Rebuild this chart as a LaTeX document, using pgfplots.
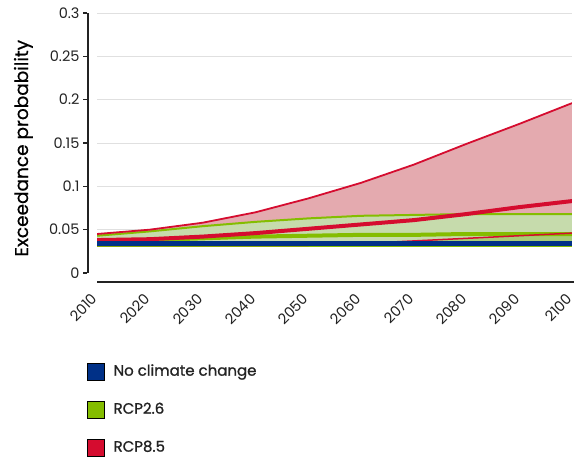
\documentclass[border=0pt]{standalone}
\usepackage{fontspec}
\setmainfont{Poppins}
\newfontfamily\semib{Poppins}[FakeBold=1.2]
\newfontfamily\medf{Poppins}[FakeBold=0.6]
\usepackage{pgfplots}
\pgfplotsset{compat=1.18}
\usepgfplotslibrary{fillbetween}

\definecolor{ncc}{RGB}{0,48,135}
\definecolor{rcpgreen}{RGB}{132,189,0}
\definecolor{rcpred}{RGB}{213,12,47}
\definecolor{redfill}{RGB}{228,170,175}
\definecolor{greenfill}{RGB}{198,219,172}
\definecolor{greendark}{RGB}{168,204,118}
\definecolor{axisgray}{RGB}{35,35,35}

\begin{document}
\begin{tikzpicture}
\begin{axis}[
  at={(0,0)}, anchor=south west,
  scale only axis, width=475bp, height=260bp,
  xmin=2010, xmax=2100, ymin=0, ymax=0.3,
  axis lines=left,
  axis line style={draw=none},
  xtick={2010,2020,2030,2040,2050,2060,2070,2080,2090,2100},
  xticklabels={2010,2020,2030,2040,2050,2060,2070,2080,2090,2100},
  ytick={0.05,0.1,0.15,0.2,0.25,0.3},
  yticklabels={0.05,0.1,0.15,0.2,0.25,0.3},
  extra y ticks={0}, extra y tick labels={0},
  extra y tick style={grid=none},
  ymajorgrids,
  grid style={line width=1bp, black!12},
  tick align=outside,
  major tick length=5bp,
  tick style={draw=none},
  tick label style={font=\fontsize{14.5bp}{16bp}\selectfont, text=axisgray},
  yticklabel style={xshift=-9bp},
  xticklabel style={xshift=0bp, yshift=-16bp, rotate=45, anchor=east},
  ylabel={Exceedance probability},
  ylabel style={at={(axis description cs:-0.155,0.48)}, anchor=center,
    font=\fontsize{18.5bp}{20bp}\medf, text=black},
  legend style={at={(rel axis cs:0,0)}, anchor=north west, xshift=-10bp, yshift=-90bp,
    draw=none, fill=none, inner sep=0pt, row sep=20.5bp,
    font=\fontsize{15bp}{17bp}\semib,
    nodes={text height=10.5bp, text depth=3bp, inner sep=2bp, text=axisgray}},
  legend cell align=left,
  legend image code/.code={\fill[#1] (0bp,-8.5bp) rectangle (17bp,8.5bp);},
  /tikz/every odd column/.style={column sep=7bp},
]
% band bounds
\addplot[draw=none, name path=ru, forget plot] coordinates {
  (2010,0.045) (2020,0.050) (2030,0.058) (2040,0.070) (2050,0.086)
  (2060,0.104) (2070,0.125) (2080,0.149) (2090,0.172) (2100,0.196)};
\addplot[draw=none, name path=rl, forget plot] coordinates {
  (2010,0.032) (2020,0.032) (2030,0.032) (2040,0.032) (2050,0.032)
  (2060,0.034) (2070,0.037) (2080,0.040) (2090,0.043) (2100,0.046)};
\addplot[draw=none, name path=gu, forget plot] coordinates {
  (2010,0.043) (2020,0.048) (2030,0.054) (2040,0.059) (2050,0.063)
  (2060,0.066) (2070,0.067) (2080,0.068) (2090,0.068) (2100,0.068)};
\addplot[draw=none, name path=gl, forget plot] coordinates {
  (2010,0.031) (2020,0.031) (2030,0.031) (2040,0.031) (2050,0.031)
  (2060,0.031) (2070,0.031) (2080,0.031) (2090,0.031) (2100,0.031)};

\addplot[fill=redfill, draw=none, forget plot] fill between[of=ru and rl];
\addplot[fill=greenfill, draw=none, forget plot] fill between[of=gu and gl];
\addplot[fill=greendark, draw=none, forget plot] fill between[of=rl and gl];

% RCP2.6 lines
\addplot[rcpgreen, line width=1.5bp, forget plot] coordinates {
  (2010,0.031) (2020,0.031) (2030,0.031) (2040,0.031) (2050,0.031)
  (2060,0.031) (2070,0.031) (2080,0.031) (2090,0.031) (2100,0.031)};
\addplot[rcpgreen, line width=2bp, forget plot] coordinates {
  (2010,0.043) (2020,0.048) (2030,0.054) (2040,0.059) (2050,0.063)
  (2060,0.066) (2070,0.067) (2080,0.068) (2090,0.068) (2100,0.068)};
\addplot[rcpgreen, line width=4bp, forget plot] coordinates {
  (2010,0.036) (2020,0.038) (2030,0.040) (2040,0.042) (2050,0.043)
  (2060,0.044) (2070,0.044) (2080,0.045) (2090,0.045) (2100,0.045)};

% RCP8.5 lines
\addplot[rcpred, line width=1.5bp, forget plot] coordinates {
  (2010,0.032) (2020,0.032) (2030,0.032) (2040,0.032) (2050,0.032)
  (2060,0.034) (2070,0.037) (2080,0.040) (2090,0.043) (2100,0.046)};
\addplot[rcpred, line width=1.8bp, forget plot] coordinates {
  (2010,0.045) (2020,0.050) (2030,0.058) (2040,0.070) (2050,0.086)
  (2060,0.104) (2070,0.125) (2080,0.149) (2090,0.172) (2100,0.196)};
\addplot[rcpred, line width=4bp, forget plot] coordinates {
  (2010,0.038) (2020,0.039) (2030,0.042) (2040,0.046) (2050,0.051)
  (2060,0.056) (2070,0.061) (2080,0.068) (2090,0.076) (2100,0.083)};

% No climate change
\addplot[ncc, line width=4.5bp, forget plot] coordinates {
  (2010,0.034) (2020,0.034) (2030,0.034) (2040,0.034) (2050,0.034)
  (2060,0.034) (2070,0.034) (2080,0.034) (2090,0.034) (2100,0.034)};

\addlegendimage{fill=ncc}
\addlegendimage{fill=rcpgreen}
\addlegendimage{fill=rcpred}
\legend{No climate change,RCP2.6,RCP8.5}
\end{axis}
% axis lines, set off from the plot area
\draw[axisgray, line width=1.5bp] (-9bp,0) -- (-9bp,260bp);
\foreach \k in {0,...,6} \draw[axisgray, line width=1.5bp] (-9.75bp,\k*260bp/6) -- (-14bp,\k*260bp/6);
\draw[axisgray, line width=2bp] (0,-9bp) -- (477bp,-9bp);
\pgfresetboundingbox
\path (-97bp,-187bp) rectangle (478bp,273bp);
\end{tikzpicture}
\end{document}
